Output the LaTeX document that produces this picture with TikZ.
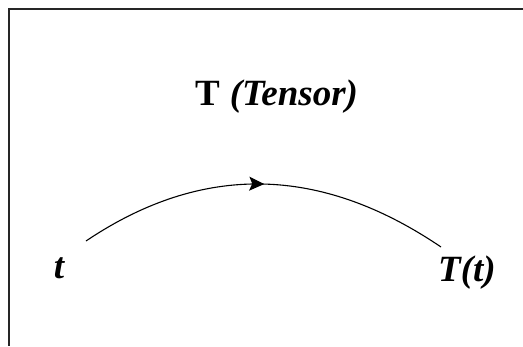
\documentclass[tikz,border=0pt]{standalone}
\usepackage{fontspec}
\setmainfont{Liberation Serif}
\usetikzlibrary{arrows.meta,decorations.markings}

\begin{document}
\begin{tikzpicture}[x=1pt,y=-1pt,>=Stealth,
lbl/.style={font=\fontsize{37}{42}\selectfont\bfseries\itshape,inner sep=0pt},
curve/.style={line width=1.1pt,postaction={decorate},
  decoration={markings,mark=at position 0.5 with {\arrow{Stealth[length=15pt,width=14pt,inset=3pt]}}}}]
\useasboundingbox (0,0) rectangle (523,346);
\draw[line width=1.4pt,black!85] (523,9) -| (9,346);
\node[lbl] (t) at (59,268) {t};
\node[lbl] (Tt) at (467,273) {T(t)};
\node[inner sep=0pt] (title) at (277,97) {\fontsize{37}{42}\selectfont\bfseries T \textit{(Tensor)}};
\coordinate (s) at (86,241);
\coordinate (e) at (441,247);
\draw[curve] (s) .. controls (202,163) and (320,165) .. (e);
\end{tikzpicture}
\end{document}
